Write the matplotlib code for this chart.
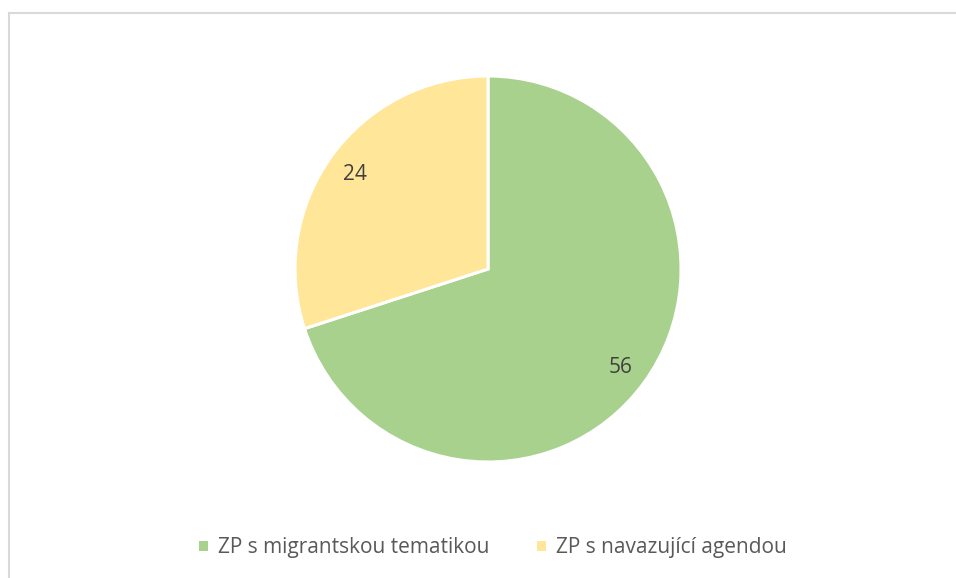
import numpy as np
import matplotlib.pyplot as plt
from matplotlib.lines import Line2D
from matplotlib.patches import Patch

# data
labels = ["ZP s migrantskou tematikou", "ZP s navazující agendou"]
values = [56, 24]
colors = ["#A9D18E", "#FFE699"]

plt.rcParams['font.family'] = ['Open Sans', 'DejaVu Sans']

fig = plt.figure(figsize=(9.56, 5.78), dpi=100)
ax = fig.add_axes([0.3086, 0.2007, 0.4038, 0.6678])

wedges, texts = ax.pie(values, colors=colors, startangle=90, counterclock=False,
                       radius=1, wedgeprops=dict(edgecolor='white', linewidth=2.2))
for w, v in zip(wedges, values):
    ang = np.deg2rad((w.theta1 + w.theta2) / 2)
    ax.text(0.85 * np.cos(ang), 0.85 * np.sin(ang) - 0.01, str(v), ha='center', va='center',
            fontsize=15, color='#404040')
ax.set_xlim(-1, 1)
ax.set_ylim(-1, 1)
ax.set_aspect('equal')
ax.axis('off')

# chart frame (only top and left edge visible)
fig.add_artist(Line2D([8.5 / 956, 1], [1 - 12.5 / 578, 1 - 12.5 / 578], color='#D9D9D9', lw=1.5))
fig.add_artist(Line2D([8.5 / 956, 8.5 / 956], [0, 1 - 12.5 / 578], color='#D9D9D9', lw=1.5))

handles = [Patch(facecolor=c, edgecolor='none') for c in colors]
leg = fig.legend(handles, labels, loc='center', bbox_to_anchor=(493 / 956, 1 - 548 / 578),
                 ncol=2, frameon=False, fontsize=15, handlelength=0.42, handleheight=0.42,
                 handletextpad=0.5, columnspacing=2.3)
for t in leg.get_texts():
    t.set_color('#595959')

plt.savefig('out.png', dpi=100)
